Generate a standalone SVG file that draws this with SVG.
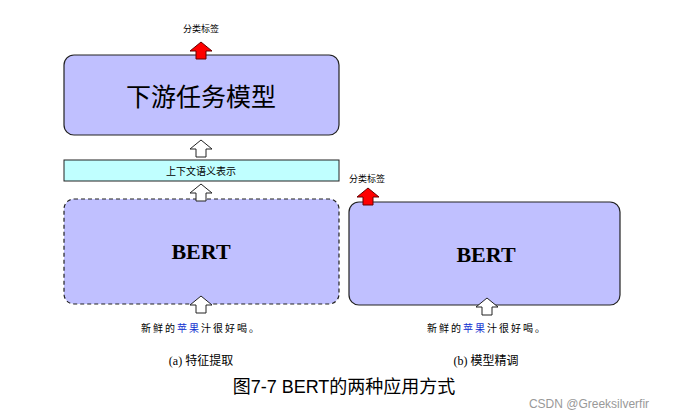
<svg xmlns="http://www.w3.org/2000/svg" width="678" height="418" viewBox="0 0 678 418">
<style>
.box{fill:#c0c0ff;stroke:#222;stroke-width:1.2}
.cjk{font-family:"Liberation Sans","Noto Sans CJK SC",sans-serif}
.bert{font-family:"Liberation Serif",serif;font-weight:bold;font-size:22px;text-anchor:middle}
.wa{fill:#fff;stroke:#222;stroke-width:1}
.ra{fill:#f00;stroke:#600;stroke-width:1}
</style>
<defs>
<path id="arr" d="M0,0 L11,9 L5,9 L5,17 L-5,17 L-5,9 L-11,9 Z"/>
</defs>
<rect width="678" height="418" fill="#fff"/>
<g id="downstream"><rect class="box" x="64" y="55" width="275" height="80" rx="10"/>
<text class="cjk" x="201" y="106" font-size="25" text-anchor="middle">下游任务模型</text></g>
<g id="context"><rect x="64" y="160" width="275" height="21" fill="#c0ffff" stroke="#222" stroke-width="1"/>
<text class="cjk" x="201" y="175" font-size="10" text-anchor="middle">上下文语义表示</text></g>
<g id="bert-a"><rect class="box" x="64" y="199" width="275" height="105" rx="10" stroke-dasharray="4,3"/>
<text class="bert" x="201" y="259">BERT</text></g>
<g id="bert-b"><rect class="box" x="349" y="202" width="271" height="103" rx="10"/>
<text class="bert" x="486" y="262">BERT</text></g>
<g id="connectors">
<use href="#arr" class="ra" x="201" y="42"/>
<use href="#arr" class="wa" x="201" y="140"/>
<use href="#arr" class="wa" x="201" y="184"/>
<use href="#arr" class="wa" x="201" y="296"/>
<use href="#arr" class="ra" x="368" y="188"/>
<use href="#arr" class="wa" x="487" y="298"/>
</g>
<g class="cjk" font-size="9" text-anchor="middle">
<text x="201" y="32">分类标签</text>
<text x="367" y="182">分类标签</text>
</g>
<g class="cjk" font-size="10" text-anchor="middle" letter-spacing="2">
<text x="201" y="332">新鲜的<tspan fill="#1030d0">苹果</tspan>汁很好喝。</text>
<text x="487" y="332">新鲜的<tspan fill="#1030d0">苹果</tspan>汁很好喝。</text>
</g>
<g font-family="Liberation Serif,Noto Sans CJK SC,serif" font-size="12" text-anchor="middle">
<text x="201" y="365">(a) 特征提取</text>
<text x="486" y="365">(b) 模型精调</text>
</g>
<text class="cjk" x="344" y="393" font-size="18" text-anchor="middle">图7-7 BERT的两种应用方式</text>
<text class="cjk" x="589" y="408" font-size="12" fill="#999" text-anchor="middle">CSDN @Greeksilverfir</text>
</svg>
